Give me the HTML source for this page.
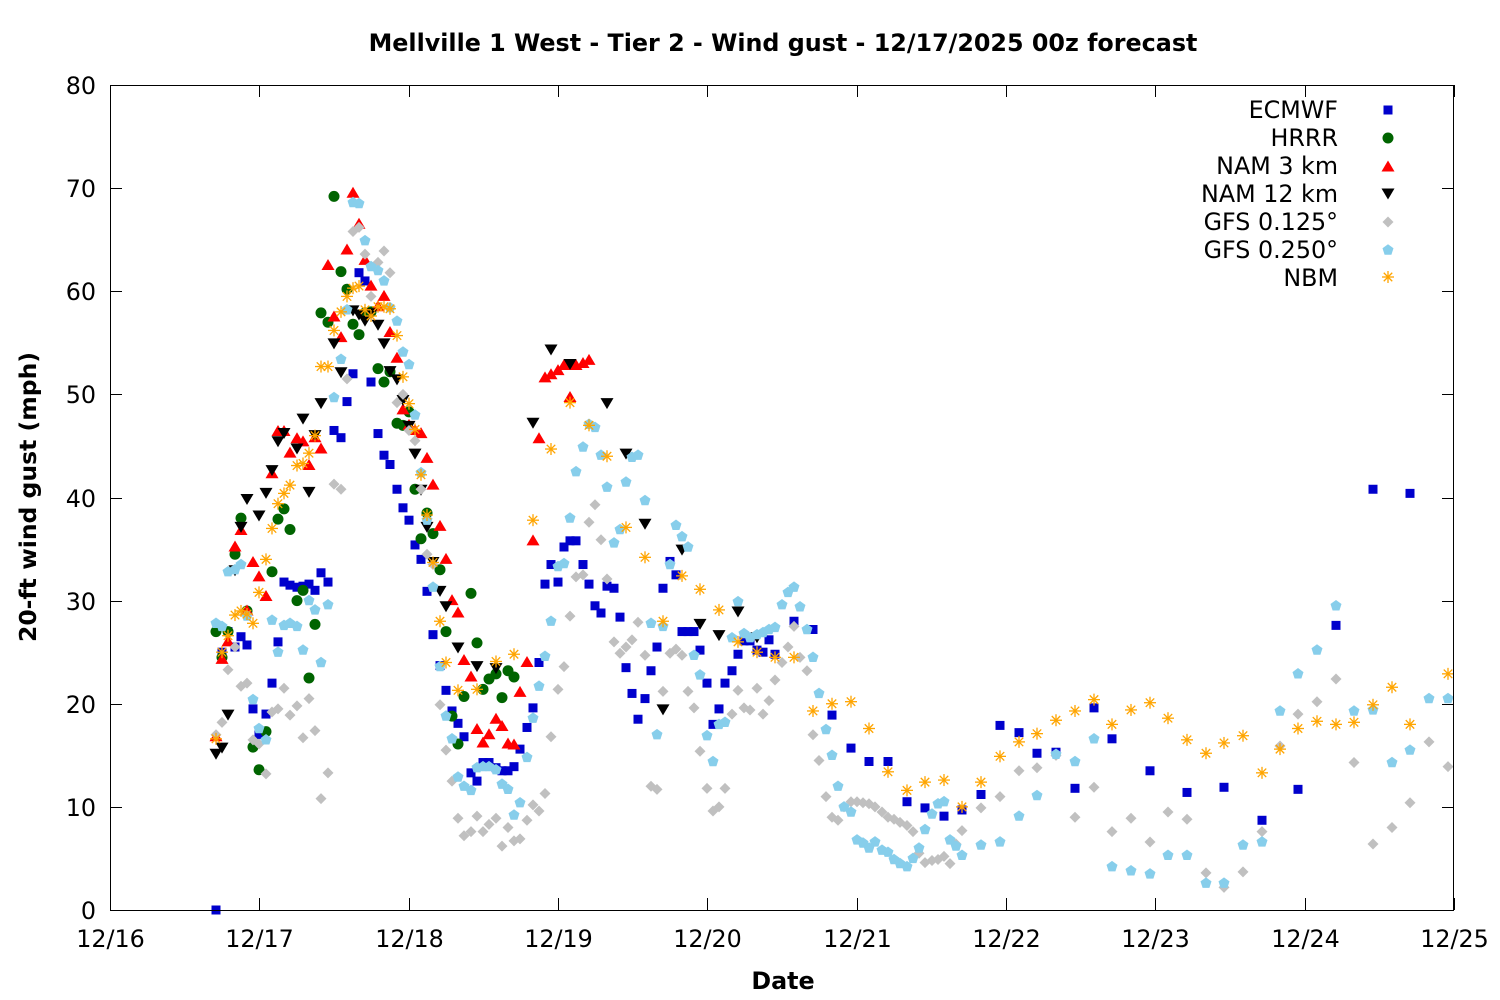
<!DOCTYPE html>
<html><head><meta charset="utf-8"><style>
body{margin:0;background:#fff}
svg{display:block}
text{font-family:"DejaVu Sans","Liberation Sans",sans-serif}
</style></head><body>
<svg id="s" width="1500" height="1000" xmlns="http://www.w3.org/2000/svg">
<rect width="1500" height="1000" fill="#fff"/>
<text x="783" y="51" font-size="23.8" font-weight="bold" text-anchor="middle">Mellville 1 West - Tier 2 - Wind gust - 12/17/2025 00z forecast</text>
<text x="783" y="989" font-size="23.8" font-weight="bold" text-anchor="middle">Date</text>
<text transform="translate(36,497) rotate(-90)" font-size="23.5" font-weight="bold" text-anchor="middle">20-ft wind gust (mph)</text>
<g id="ax"></g>
<g id="pts"></g>
<rect x="110.5" y="85.5" width="1343" height="825" fill="none" stroke="#000" stroke-width="1"/>
<g font-size="23.8" text-anchor="end">
<text x="1338" y="118">ECMWF</text>
<text x="1338" y="146">HRRR</text>
<text x="1338" y="174">NAM 3 km</text>
<text x="1338" y="202">NAM 12 km</text>
<text x="1338" y="230">GFS 0.125°</text>
<text x="1338" y="258">GFS 0.250°</text>
<text x="1338" y="286">NBM</text>
</g>
</svg>
<script>
const NS="http://www.w3.org/2000/svg";
const ax=document.getElementById('ax'),P=document.getElementById('pts');
function Y(v){return 910-v*10.3125;}
function el(t,a,par){const e=document.createElementNS(NS,t);for(const k in a)e.setAttribute(k,a[k]);(par||P).appendChild(e);return e;}
for(let v=0;v<=80;v+=10){const y=Math.round(Y(v))+0.5;
 el('line',{x1:110,x2:122,y1:y,y2:y,stroke:'#000'},ax);el('line',{x1:1442,x2:1454,y1:y,y2:y,stroke:'#000'},ax);
 const t=el('text',{x:96,y:y+8.5,'font-size':23.8,'text-anchor':'end'},ax);t.textContent=v;}
for(let d=0;d<=9;d++){const x=Math.round(110+d*149.33)+0.5;
 el('line',{x1:x,x2:x,y1:898,y2:910,stroke:'#000'},ax);el('line',{x1:x,x2:x,y1:85,y2:97,stroke:'#000'},ax);
 const t=el('text',{x:x,y:947,'font-size':23.8,'text-anchor':'middle'},ax);t.textContent='12/'+(16+d);}
const M={
sq:(x,y,c)=>el('rect',{x:x-4.5,y:y-4.5,width:9,height:9,fill:c}),
ci:(x,y,c)=>el('circle',{cx:x,cy:y,r:5.5,fill:c}),
tu:(x,y,c)=>el('polygon',{points:`${x},${y-6.5} ${x+6.5},${y+4.5} ${x-6.5},${y+4.5}`,fill:c}),
td:(x,y,c)=>el('polygon',{points:`${x},${y+6.5} ${x+6.5},${y-4.5} ${x-6.5},${y-4.5}`,fill:c}),
di:(x,y,c)=>el('polygon',{points:`${x},${y-5.5} ${x+5.5},${y} ${x},${y+5.5} ${x-5.5},${y}`,fill:c}),
pe:(x,y,c)=>{let p=[];for(let i=0;i<5;i++){const a=-Math.PI/2+i*2*Math.PI/5;p.push((x+5.8*Math.cos(a)).toFixed(1)+','+(y+5.8*Math.sin(a)).toFixed(1));}el('polygon',{points:p.join(' '),fill:c});},
as:(x,y,c)=>{const g=el('g',{stroke:c,'stroke-width':1.3});for(let i=0;i<4;i++){const a=i*Math.PI/4;el('line',{x1:x-6*Math.cos(a),y1:y-6*Math.sin(a),x2:x+6*Math.cos(a),y2:y+6*Math.sin(a)},g);}}
};
function S(d,m,c){for(let i=0;i<d.length;i+=2)M[m](d[i],Y(d[i+1]),c);}
const EC=[216,0,222,25,228,27,235,25.5,241,26.5,247,25.7,253,19.5,259,17,266,19,272,22,278,26,284,31.8,290,31.5,297,31.3,303,31.4,309,31.6,315,31,321,32.7,328,31.8,334,46.5,341,45.8,347,49.3,353,52,359,61.8,365,61,371,51.2,378,46.2,384,44.1,390,43.2,397,40.8,403,39,409,37.8,415,35.4,421,34,427,30.9,433,26.7,440,23.7,446,21.3,452,19.3,458,18.1,464,16.8,471,13.3,477,12.5,483,14.3,489,14.3,496,13.8,502,13.5,508,13.5,514,13.9,520,15.6,527,17.7,533,19.6,539,24,545,31.6,551,33.5,558,31.8,564,35.2,570,35.8,576,35.8,583,33.5,589,31.6,595,29.5,601,28.8,607,31.4,614,31.2,620,28.4,626,23.5,632,21,638,18.5,645,20.5,651,23.2,657,25.5,663,31.2,670,33.8,676,32.5,682,27,688,27,694,27,700,25.2,707,22,713,18,719,19.5,725,22,732,23.2,738,24.8,744,26.1,750,26.1,757,25.2,763,25,769,26.2,775,24.8,794,28,813,27.2,832,18.9,851,15.7,869,14.4,888,14.4,907,10.5,925,9.9,944,9.1,962,9.7,981,11.2,1000,17.9,1019,17.2,1037,15.2,1056,15.3,1075,11.8,1094,19.6,1112,16.6,1150,13.5,1187,11.4,1224,11.9,1262,8.7,1298,11.7,1336,27.6,1373,40.8,1410,40.4];
const HR=[216,27,222,24.5,228,27,235,34.5,241,38,247,29,253,15.8,259,13.6,266,17.3,272,32.8,278,37.9,284,38.9,290,36.9,297,30,303,31,309,22.5,315,27.7,321,57.9,328,57,334,69.2,341,61.9,347,60.2,353,56.8,359,55.8,365,57.9,371,58,378,52.5,384,51.2,390,52.2,397,47.2,403,47,409,48.3,415,40.8,421,36,427,38.5,433,36.5,440,33,446,27,452,18.8,458,16.1,464,20.7,471,30.7,477,25.9,483,21.4,489,22.4,496,22.9,502,20.6,508,23.2,514,22.6];
const N3=[216,16.8,222,24.3,228,26,235,35.2,241,36.8,247,29,253,33.7,259,32.3,266,30.4,272,42.3,278,46.4,284,46.4,290,44.3,297,45.7,303,45.4,309,43.1,315,45.8,321,44.7,328,62.5,334,57.5,341,55.5,347,64,353,69.5,359,66.5,365,63,371,60.5,378,58.5,384,59.5,390,56,397,53.5,403,48.5,409,47,415,46.5,421,46.2,427,43.8,433,41.2,440,37.2,446,34,452,30,458,28.8,464,24.2,471,22.6,477,17.5,483,16.2,489,17,496,18.5,502,17.8,508,16.1,514,16,520,21.1,527,24,533,35.8,539,45.7,545,51.6,551,51.9,558,52.3,564,52.8,570,49.7,576,52.8,583,53,589,53.3];
const N12=[216,15.2,222,15.8,228,19,235,33,241,37.2,247,39.9,259,38.3,266,40.5,272,42.7,278,45.5,284,46.3,297,44.8,303,47.7,309,40.6,315,46.1,321,49.2,334,55,341,52.2,353,58.2,359,57.8,365,57.2,371,57.9,378,56.8,384,55,390,52.3,397,51.5,403,49.5,409,47,415,44.3,421,40.8,427,37.2,433,33.8,440,31,446,29.5,458,25.5,477,23.7,496,23.5,533,47.3,551,54.4,570,53,607,49.2,626,44.3,645,37.5,663,19.5,682,35,700,27.8,719,26.7,738,29,757,26.5];
const G1=[216,17,222,18.2,228,23.3,235,25.5,241,21.7,247,22,253,16.5,259,16.1,266,13.2,272,19.2,278,19.5,284,21.5,290,18.9,297,19.8,303,16.7,309,20.5,315,17.4,321,10.8,328,13.3,334,41.3,341,40.8,347,51.5,353,65.8,359,66.2,365,63.6,371,59.5,378,62.8,384,63.9,390,61.8,397,49.2,403,50,409,46.5,415,45.5,421,40.8,427,34.5,433,33.5,440,19.9,446,15.5,452,12.5,458,8.9,464,7.2,471,7.6,477,9.1,483,7.6,489,8.3,496,8.9,502,6.2,508,8,514,6.7,520,6.9,527,8.7,533,10.2,539,9.6,545,11.3,551,16.8,558,21.4,564,23.6,570,28.5,576,32.3,583,32.5,589,37.6,595,39.3,601,35.9,607,32.1,614,26,620,24.9,626,25.5,632,26.2,638,27.9,645,24.7,651,12,657,11.7,663,21.2,670,24.9,676,25.3,682,24.7,688,21.2,694,19.6,700,15.4,707,11.8,713,9.6,719,10,725,11.8,732,19,738,21.3,744,19.6,750,19.4,757,21.5,763,19,769,20.3,775,22.3,782,24,788,25.5,794,27.5,800,24.5,807,23.2,813,17,819,14.5,826,11,832,9,838,8.7,844,10,851,10.5,857,10.5,863,10.4,869,10.3,875,10,882,9.5,888,9,894,8.8,900,8.5,907,8.2,913,7.6,919,5.5,925,4.6,932,4.8,938,4.9,944,5.2,950,4.5,956,6.4,962,7.7,981,9.9,1000,11,1019,13.5,1037,13.8,1056,15,1075,9,1094,11.9,1112,7.6,1131,8.9,1150,6.6,1168,9.5,1187,8.8,1206,3.6,1224,2.2,1243,3.7,1262,7.6,1280,15.9,1298,19,1317,20.2,1336,22.4,1354,14.3,1373,6.4,1392,8,1410,10.4,1429,16.3,1448,13.9];
const G2=[216,27.8,222,27.5,228,32.8,235,33,241,33.5,247,28.5,253,20.4,259,17.6,266,16.5,272,28.1,278,25,284,27.6,290,27.8,297,27.5,303,25.2,309,30,315,29.1,321,24,328,29.6,334,49.7,341,53.4,347,58.2,353,68.6,359,68.5,365,64.9,371,62.4,378,62,384,61,390,58.4,397,57.1,403,54.1,409,52.9,415,48,421,42.4,427,37.8,433,31.3,440,23.6,446,18.8,452,16.6,458,12.9,464,12,471,11.6,477,13.8,483,13.9,489,13.9,496,13.6,502,12.2,508,11.7,514,9.2,520,10.4,527,14.8,533,18.6,539,21.7,545,24.6,551,28,558,33.3,564,33.6,570,38,576,42.5,583,44.9,589,47.1,595,46.8,601,44.1,607,41,614,35.6,620,36.9,626,41.5,632,43.9,638,44.1,645,39.7,651,27.8,657,17,663,27.5,670,33.5,676,37.3,682,36.2,688,35.2,694,24.7,700,22.8,707,16.9,713,14.4,719,18,725,18.2,732,26.4,738,29.9,744,26.8,750,26.4,757,26.7,763,26.9,769,27.2,775,27.4,782,29.6,788,30.8,794,31.3,800,29.4,807,27.2,813,24.5,819,21,826,17.5,832,15,838,12,844,10,851,9.5,857,6.8,863,6.5,869,6,875,6.6,882,5.8,888,5.6,894,4.9,900,4.5,907,4.2,913,5,919,6,925,7.8,932,9.3,938,10.3,944,10.5,950,6.8,956,6.2,962,5.3,981,6.3,1000,6.6,1019,9.1,1037,11.1,1056,15.1,1075,14.4,1094,16.6,1112,4.2,1131,3.8,1150,3.5,1168,5.3,1187,5.3,1206,2.6,1224,2.6,1243,6.3,1262,6.6,1280,19.3,1298,22.9,1317,25.2,1336,29.5,1354,19.3,1373,19.4,1392,14.3,1410,15.5,1429,20.5,1448,20.5];
const NB=[216,16.6,222,25,228,26.6,235,28.6,241,29,247,28.7,253,27.8,259,30.8,266,34,272,37,278,39.4,284,40.4,290,41.2,297,43.1,303,43.3,309,44.3,315,46,321,52.7,328,52.7,334,56.2,341,58,347,59.5,353,60.3,359,60.5,365,58.2,371,57.6,378,58.5,384,58.5,390,58.3,397,55.7,403,51.7,409,49.1,415,46.6,421,42.2,427,38.3,433,33.7,440,28,446,24,458,21.3,477,21.4,496,24.1,514,24.8,533,37.8,551,44.7,570,49.2,589,47,607,44,626,37.1,645,34.2,663,28,682,32.4,700,31.1,719,29.1,738,26,757,25,775,24.5,794,24.5,813,19.3,832,20,851,20.2,869,17.6,888,13.4,907,11.6,925,12.4,944,12.6,962,10,981,12.4,1000,14.9,1019,16.3,1037,17.1,1056,18.4,1075,19.3,1094,20.4,1112,18,1131,19.4,1150,20.1,1168,18.6,1187,16.5,1206,15.2,1224,16.2,1243,16.9,1262,13.3,1280,15.6,1298,17.6,1317,18.3,1336,18,1354,18.2,1373,19.9,1392,21.6,1410,18,1448,22.9];
S(EC,'sq','#0000cc');S(HR,'ci','#006400');S(N3,'tu','#ff0000');S(N12,'td','#000000');
S(G1,'di','#c0c0c0');S(G2,'pe','#87ceeb');S(NB,'as','#ffa500');
M.sq(1388,110,'#0000cc');M.ci(1388,138,'#006400');M.tu(1388,167,'#ff0000');M.td(1388,193,'#000');
M.di(1388,222,'#c0c0c0');M.pe(1388,250,'#87ceeb');M.as(1388,277,'#ffa500');
</script>
</body></html>
